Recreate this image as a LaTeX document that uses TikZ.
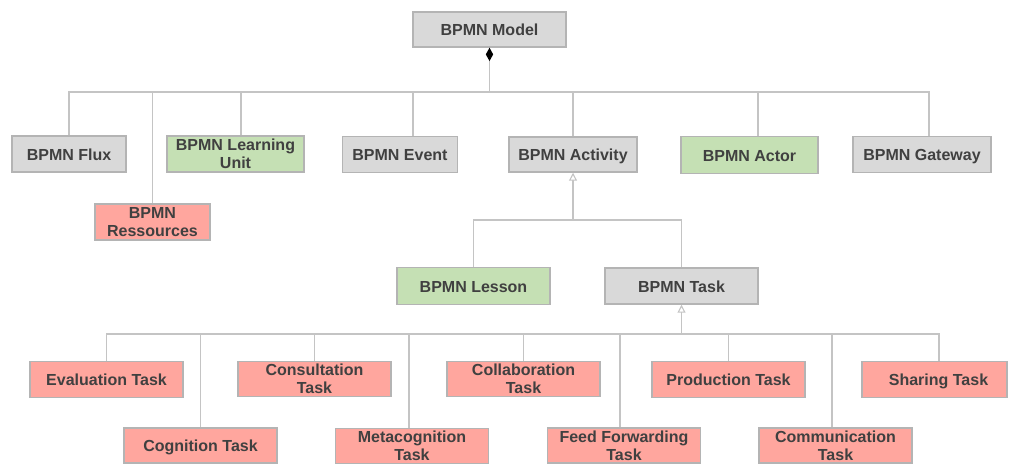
\documentclass[tikz,border=0pt]{standalone}
\usepackage{fontspec}
\setmainfont{Liberation Sans}
\usetikzlibrary{arrows.meta,calc}
\definecolor{boxgray}{HTML}{D9D9D9}
\definecolor{boxgreen}{HTML}{C5E0B4}
\definecolor{boxred}{HTML}{FFA69E}
\definecolor{edgegray}{HTML}{B4B4B4}
\definecolor{linegray}{HTML}{C4C4C4}
\definecolor{txtgray}{HTML}{404040}
\begin{document}
\begin{tikzpicture}[x=0.75pt,y=-0.75pt,
  box/.style={draw=edgegray,line width=1.1pt,inner sep=0pt,align=center,
    text=txtgray,font=\fontsize{12}{13.7}\selectfont\bfseries},
  one/.style={text height=10pt,text depth=0.6pt},
  gbox/.style={box,fill=boxgray},
  lbox/.style={box,fill=boxgreen},
  rbox/.style={box,fill=boxred},
  conn/.style={draw=linegray,line width=0.8pt},
  comp/.style={conn,{Diamond[fill=black,color=black,width=5.5pt,length=10pt]}-},
  gen/.style={conn,{Triangle[open,fill=white,width=6pt,length=6pt]}-}
]
\useasboundingbox (0,0) rectangle (1009,464);

% top
\node[gbox,one,minimum width={153*0.75pt},minimum height={35*0.75pt}] (model) at (489.5,29.5) {BPMN Model};

% level 1
\node[gbox,one,minimum width={114*0.75pt},minimum height={36*0.75pt}] (flux) at (69,154) {BPMN Flux};
\node[lbox,minimum width={137*0.75pt},minimum height={36*0.75pt}] (lu) at (235.5,154) {BPMN Learning\\Unit};
\node[rbox,minimum width={115*0.75pt},minimum height={36*0.75pt}] (res) at (152.5,222) {BPMN\\Ressources};
\node[gbox,one,minimum width={115*0.75pt},minimum height={36*0.75pt}] (event) at (400,154.5) {BPMN Event};
\node[gbox,one,minimum width={128*0.75pt},minimum height={35*0.75pt}] (act) at (573,154.5) {BPMN Activity};
\node[lbox,one,minimum width={137*0.75pt},minimum height={37*0.75pt}] (actor) at (749.5,155) {BPMN Actor};
\node[gbox,one,minimum width={138*0.75pt},minimum height={36*0.75pt}] (gate) at (922,154.5) {BPMN Gateway};

% level 2
\node[lbox,one,minimum width={153*0.75pt},minimum height={37*0.75pt}] (lesson) at (473.5,286) {BPMN Lesson};
\node[gbox,one,minimum width={153*0.75pt},minimum height={36*0.75pt}] (task) at (681.5,286) {BPMN Task};

% level 3 row A
\node[rbox,one,minimum width={153*0.75pt},minimum height={35.5*0.75pt}] (eval) at (106.5,379.5) {Evaluation Task};
\node[rbox,minimum width={153*0.75pt},minimum height={35.5*0.75pt}] (cons) at (314.5,379) {Consultation\\Task};
\node[rbox,minimum width={153*0.75pt},minimum height={35.5*0.75pt}] (coll) at (523.5,379) {Collaboration\\Task};
\node[rbox,one,minimum width={153*0.75pt},minimum height={35.5*0.75pt}] (prod) at (728.5,379.5) {Production Task};
\node[rbox,one,minimum width={145*0.75pt},minimum height={35.5*0.75pt}] (share) at (934.5,379.5) {\hspace*{6pt}Sharing Task};

% level 3 row B
\node[rbox,one,minimum width={153*0.75pt},minimum height={35*0.75pt}] (cogn) at (200.5,445.5) {Cognition Task};
\node[rbox,minimum width={153*0.75pt},minimum height={35*0.75pt}] (meta) at (412,446) {Metacognition\\Task};
\node[rbox,minimum width={153*0.75pt},minimum height={35*0.75pt}] (feed) at (624,445.5) {Feed Forwarding\\Task};
\node[rbox,minimum width={153*0.75pt},minimum height={35*0.75pt}] (comm) at (835.5,445.5) {Communication\\Task};

% hubs
\coordinate (hub1) at (489.5,92);
\coordinate (hub2) at (573,220);
\coordinate (hub3) at (681.5,334);

% composition
\draw[comp] (model.south) -- (hub1);
\draw[conn] (hub1) -| (flux.north);
\draw[conn] (hub1) -| (res.north);
\draw[conn] (hub1) -| ($(lu.north)+(5.5,0)$);
\draw[conn] (hub1) -| ($(event.north)+(13,0)$);
\draw[conn] (hub1) -| (act.north);
\draw[conn] (hub1) -| ($(actor.north)+(8.5,0)$);
\draw[conn] (hub1) -| ($(gate.north)+(7,0)$);

% generalization activity
\draw[gen] (act.south) -- (hub2);
\draw[conn] (hub2) -| (lesson.north);
\draw[conn] (hub2) -| (task.north);

% generalization task
\draw[gen] (task.south) -- (hub3);
\draw[conn] (hub3) -| (eval.north);
\draw[conn] (hub3) -| (cons.north);
\draw[conn] (hub3) -| (coll.north);
\draw[conn] (hub3) -| (prod.north);
\draw[conn] (hub3) -| ($(share.north)+(4.5,0)$);
\draw[conn] (hub3) -| (cogn.north);
\draw[conn] (hub3) -| ($(meta.north)+(-3,0)$);
\draw[conn] (hub3) -| ($(feed.north)+(-4,0)$);
\draw[conn] (hub3) -| ($(comm.north)+(-3.5,0)$);
\end{tikzpicture}
\end{document}
